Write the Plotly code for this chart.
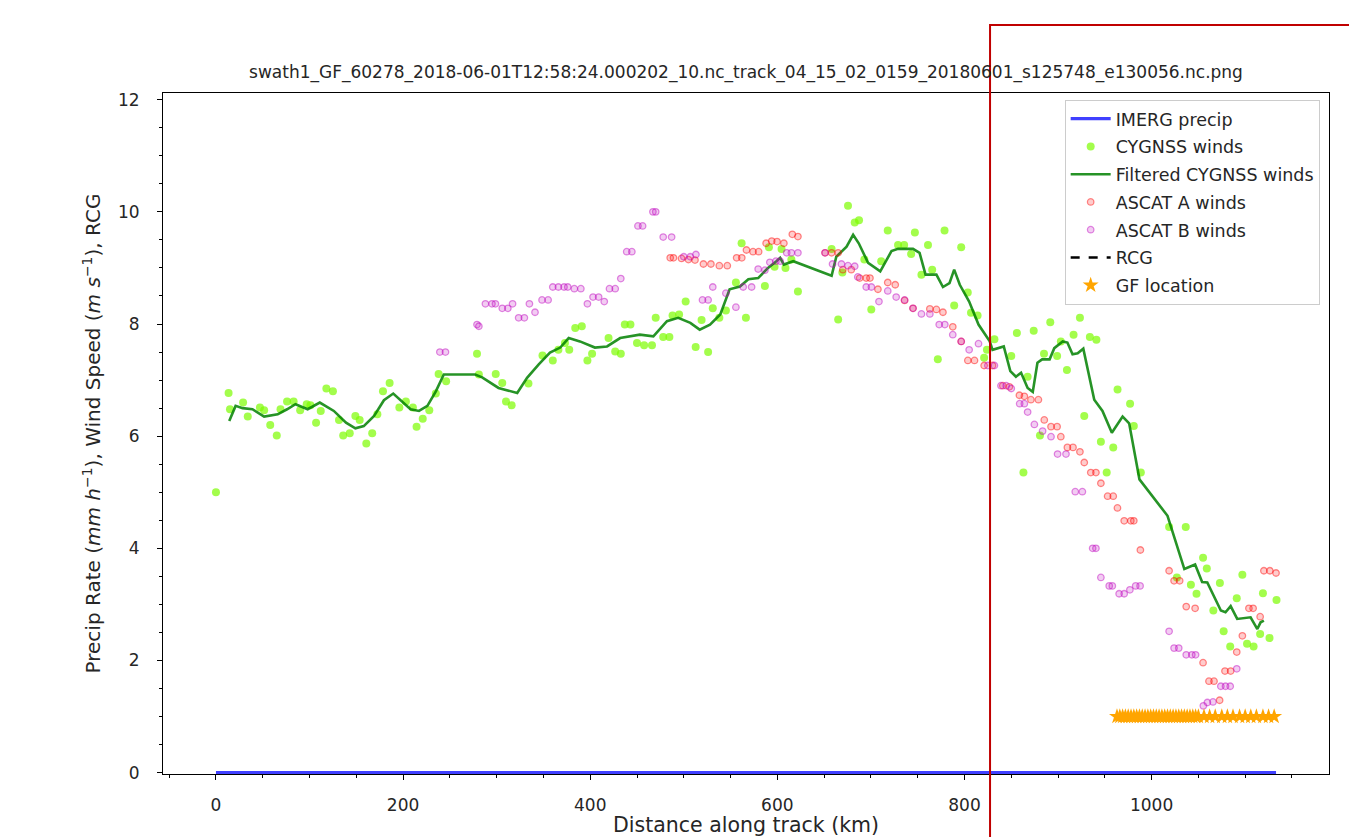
import plotly.graph_objects as go

TITLE = "swath1_GF_60278_2018-06-01T12:58:24.000202_10.nc_track_04_15_02_0159_20180601_s125748_e130056.nc.png"

# IMERG precipitation along track (km, mm/h)
imerg_x = [0, 1133]
imerg_y = [0.0, 0.0]

# CYGNSS winds (km, m/s)
cyg_x = [0, 13.5, 15, 29, 34, 47, 51.5, 58, 65, 69, 76, 83, 90, 97, 101, 107, 112, 118, 125, 131.5,
         136, 143, 149, 153.6, 160.7, 167, 172.5, 178.5, 185.6, 196, 203, 210.5, 214.4, 221, 228, 235,
         238, 246, 279, 281, 299, 306, 310, 316, 334, 349, 360, 366, 373, 377.6, 384, 391, 397, 402,
         419.6, 426.7, 432.7, 437, 443, 450, 457.6, 466, 470, 478, 484.6, 488, 495, 502, 512.7, 519,
         526, 531, 538, 545, 555.7, 561.8, 566.4, 586.7, 591, 597, 604.5, 608.7, 615, 622, 658, 665,
         669.5, 675.5, 682.7, 687.3, 693, 700.4, 711, 718, 729, 735.5, 743, 747, 754, 761, 765.5,
         771.5, 778.7, 789, 796.5, 803.5, 807, 814, 821, 824, 832, 850, 856, 863, 867.5, 874, 880.7,
         885, 891.7, 899, 903, 909.5, 916.6, 923.4, 928, 934, 941, 945.8, 952, 959, 963.6, 977, 981,
         988.5, 1018.7, 1027, 1036.5, 1042, 1048, 1055, 1059, 1066, 1073, 1077, 1084, 1091, 1097,
         1102, 1109, 1116, 1119, 1126, 1133.5]
cyg_y = [5.0, 6.77, 6.48, 6.6, 6.35, 6.51, 6.46, 6.2, 6.01, 6.48, 6.62, 6.62, 6.46, 6.57, 6.55, 6.24,
         6.45, 6.85, 6.8, 6.29, 6.01, 6.05, 6.36, 6.29, 5.87, 6.05, 6.39, 6.8, 6.95, 6.51, 6.62, 6.51,
         6.17, 6.31, 6.46, 6.76, 7.11, 6.98, 7.47, 7.1, 7.11, 6.95, 6.62, 6.55, 6.94, 7.44, 7.35, 7.54,
         7.66, 7.54, 7.93, 7.96, 7.35, 7.47, 7.75, 7.51, 7.47, 7.99, 7.99, 7.66, 7.62, 7.62, 8.11,
         7.77, 7.77, 8.15, 8.17, 8.4, 7.59, 8.07, 7.5, 8.28, 8.11, 8.24, 8.74, 9.44, 8.11, 8.68, 9.37,
         9.02, 9.34, 9.0, 9.15, 8.58, 9.34, 8.08, 8.92, 10.11, 9.81, 9.85, 9.15, 8.26, 9.12, 9.67,
         9.41, 9.41, 9.25, 9.63, 8.88, 9.41, 8.97, 7.37, 9.67, 8.33, 9.37, 8.56, 8.2, 8.15, 7.4, 7.54,
         7.73, 7.43, 7.84, 5.35, 7.06, 7.88, 6.01, 7.47, 8.03, 7.43, 7.69, 7.18, 7.81, 8.11, 6.36,
         7.77, 7.72, 5.9, 5.35, 5.8, 6.83, 6.58, 6.18, 5.35, 4.38, 3.48, 4.38, 3.35, 3.19, 3.83, 3.64,
         2.89, 3.38, 2.52, 2.25, 3.11, 3.53, 2.3, 2.25, 2.47, 3.2, 2.4, 3.08]

# Filtered CYGNSS winds
filt_x = [14.2, 21, 28.5, 39, 51.5, 66, 76, 85, 98, 111, 126, 139, 149, 158, 169, 179.5, 189.5, 197,
          208, 217, 226, 235, 243.5, 277, 284.5, 302, 322, 332.5, 345, 357, 368, 377, 389, 405, 418,
          432, 453, 467.5, 482, 494, 507, 517, 528, 539, 549, 560, 569, 579.5, 590, 599, 603, 607,
          617, 658, 663, 674, 681, 687, 697, 710, 722, 729, 745, 752, 758.4, 770, 777, 784, 789, 795,
          805, 815, 827, 830, 842, 849, 855, 860.5, 867.5, 873, 878, 883, 891, 896, 905, 910, 915.5,
          921, 927, 938.7, 947.5, 957.5, 969, 976, 987, 1017, 1035, 1046.5, 1054, 1059.5, 1074, 1079,
          1084.5, 1091.5, 1105.8, 1113, 1116.5, 1120]
filt_y = [6.27, 6.54, 6.5, 6.48, 6.35, 6.39, 6.48, 6.57, 6.48, 6.6, 6.45, 6.24, 6.14, 6.18, 6.36,
          6.64, 6.76, 6.65, 6.48, 6.45, 6.54, 6.8, 7.1, 7.1, 7.05, 6.86, 6.77, 7.04, 7.28, 7.49, 7.58,
          7.75, 7.69, 7.58, 7.6, 7.75, 7.81, 7.78, 8.05, 8.11, 8.02, 7.9, 7.99, 8.17, 8.62, 8.67, 8.8,
          8.82, 9.0, 9.12, 9.18, 9.06, 9.12, 8.86, 9.2, 9.38, 9.59, 9.44, 9.09, 8.94, 9.3, 9.34, 9.34,
          9.27, 8.88, 8.88, 8.66, 8.73, 8.97, 8.7, 8.4, 7.99, 7.69, 7.54, 7.6, 7.16, 7.06, 7.13, 6.86,
          6.79, 7.31, 7.37, 7.37, 7.57, 7.69, 7.67, 7.46, 7.48, 7.56, 6.65, 6.45, 6.06, 6.35, 6.23,
          5.23, 4.58, 3.63, 3.71, 3.4, 3.39, 2.89, 2.86, 2.97, 2.74, 2.77, 2.56, 2.68, 2.71]

# ASCAT A winds
asa_x = [485.5, 489, 497.6, 505, 512, 521, 529, 538, 546.5, 556.5, 562, 567, 574, 580, 588, 594, 599.7,
         607, 616, 622, 651, 658, 665, 670, 679, 688, 695, 699, 707.5, 718, 726, 736, 745, 763, 770,
         777, 787.5, 796.5, 803.6, 810.7, 821, 830, 841, 848, 858.7, 864, 871, 879, 885.3, 892.5, 899,
         903, 910, 916, 923.4, 928, 935, 940.5, 945.8, 953, 959, 963.5, 970.7, 977.8, 981, 988,
         1018.7, 1024, 1030, 1037, 1046.5, 1055, 1061.3, 1066.7, 1072.7, 1078.4, 1084.5, 1091, 1097,
         1104, 1108.5, 1116, 1120, 1126.4, 1133]
asa_y = [9.18, 9.18, 9.17, 9.15, 9.14, 9.07, 9.07, 9.04, 9.04, 9.18, 9.18, 9.32, 9.29, 9.29, 9.44,
         9.48, 9.47, 9.44, 9.6, 9.56, 9.27, 9.27, 9.27, 8.97, 8.97, 8.82, 8.82, 8.82, 8.62, 8.74, 8.7,
         8.42, 8.28, 8.27, 8.26, 8.21, 7.95, 7.69, 7.35, 7.35, 7.26, 7.26, 6.9, 6.88, 6.73, 6.71, 6.65,
         6.65, 6.29, 6.17, 6.17, 5.99, 5.8, 5.8, 5.72, 5.53, 5.35, 5.35, 5.16, 4.93, 4.93, 4.72, 4.49,
         4.49, 4.49, 3.97, 3.6, 3.42, 3.42, 2.96, 2.93, 1.96, 1.63, 1.63, 1.29, 1.81, 1.81, 2.15, 2.44,
         2.93, 2.93, 2.78, 3.6, 3.6, 3.56]

# ASCAT B winds
asb_x = [239.3, 245.3, 279, 281, 288, 295, 298.7, 306, 312, 317, 323.5, 329.6, 335, 341, 348.5, 355,
         360, 366, 372, 376, 383, 390, 397, 403, 409, 415, 420.6, 426.7, 432.7, 439, 444.5, 451, 456,
         467, 470, 478, 487, 500, 507, 513, 520, 526, 531, 545, 555.7, 563.5, 572.5, 579.5, 586.7,
         592, 598.4, 603, 610, 615, 622, 651, 659, 668.5, 675.5, 682.7, 686, 695, 700.5, 708.6, 718,
         727, 736, 745, 754, 763, 773, 779, 787.5, 796.5, 805, 815, 825, 832, 839, 844.6, 850, 859,
         864, 867.5, 874.7, 883.5, 892.5, 899.5, 908.5, 918.4, 926, 937, 940.5, 945.8, 954.7, 958,
         965.3, 970.7, 976.8, 983, 987.7, 1018.7, 1024, 1029, 1037, 1043, 1047, 1055.3, 1059.6,
         1065.6, 1074, 1079, 1084, 1091]
asb_y = [7.5, 7.5, 7.99, 7.96, 8.36, 8.36, 8.36, 8.28, 8.28, 8.36, 8.11, 8.11, 8.36, 8.21, 8.43, 8.43,
         8.66, 8.66, 8.66, 8.66, 8.63, 8.63, 8.36, 8.48, 8.48, 8.4, 8.63, 8.63, 8.81, 9.29, 9.29, 9.75,
         9.75, 10.0, 10.0, 9.55, 9.55, 9.2, 9.2, 9.24, 8.43, 8.43, 8.66, 8.55, 8.3, 8.66, 8.66, 8.98,
         8.96, 9.1, 9.12, 9.12, 9.27, 9.27, 9.27, 9.27, 9.07, 9.07, 9.04, 9.03, 8.84, 8.66, 8.66, 8.4,
         8.59, 8.48, 8.43, 8.28, 8.18, 8.18, 7.99, 7.99, 7.81, 7.69, 7.54, 7.65, 7.26, 7.26, 6.9, 6.9,
         6.85, 6.58, 6.58, 6.43, 6.21, 6.09, 5.99, 5.68, 5.68, 5.01, 5.01, 4.0, 4.0, 3.48, 3.33, 3.33,
         3.19, 3.19, 3.26, 3.33, 3.33, 2.52, 2.22, 2.22, 2.1, 2.1, 2.1, 1.19, 1.25, 1.26, 1.54, 1.54,
         1.54, 1.85]

# RCG (no valid values on this track)
rcg_x = [None]
rcg_y = [None]

# GF locations along track
gf_x = [963, 966, 969, 972, 975, 978, 981, 984, 987, 990, 993, 996, 999, 1002, 1005, 1008, 1011,
        1014, 1017, 1020, 1023, 1026, 1029, 1032, 1035, 1038, 1041, 1044, 1047, 1050, 1056, 1062,
        1068, 1075, 1081, 1087, 1094, 1100, 1106, 1112, 1119, 1125, 1131]
gf_y = [1.0] * len(gf_x)

fig = go.Figure()
fig.add_trace(go.Scatter(x=imerg_x, y=imerg_y, mode="lines", name="IMERG precip", legendgroup="a",
                         line=dict(color="rgba(0,0,255,0.75)", width=3.2)))
fig.add_trace(go.Scatter(x=cyg_x, y=cyg_y, mode="markers", name="CYGNSS winds", legendgroup="b",
                         marker=dict(color="rgba(124,252,0,0.7)", size=8, line=dict(width=0))))
fig.add_trace(go.Scatter(x=filt_x, y=filt_y, mode="lines", name="Filtered CYGNSS winds", legendgroup="c",
                         line=dict(color="rgba(0,128,0,0.85)", width=2.6)))
fig.add_trace(go.Scatter(x=asa_x, y=asa_y, mode="markers", name="ASCAT A winds", legendgroup="d",
                         marker=dict(color="rgba(255,0,0,0.2)", size=6.5,
                                     line=dict(color="rgba(255,0,0,0.45)", width=1.3))))
fig.add_trace(go.Scatter(x=asb_x, y=asb_y, mode="markers", name="ASCAT B winds", legendgroup="e",
                         marker=dict(color="rgba(191,0,191,0.2)", size=6.5,
                                     line=dict(color="rgba(191,0,191,0.45)", width=1.3))))
fig.add_trace(go.Scatter(x=rcg_x, y=rcg_y, mode="lines", name="RCG", legendgroup="f", showlegend=True,
                         line=dict(color="black", width=2.5, dash="dash")))
fig.add_trace(go.Scatter(x=gf_x, y=gf_y, mode="markers", name="GF location", legendgroup="g",
                         marker=dict(color="orange", size=12, symbol="star", line=dict(width=0))))

font_family = "DejaVu Sans, Verdana, sans-serif"
fig.update_layout(
    width=1349, height=837,
    paper_bgcolor="white", plot_bgcolor="white",
    margin=dict(l=163, r=20, t=93, b=63),
    font=dict(family=font_family, color="#262626", size=16),
    title=dict(text=TITLE, x=0.553, xanchor="center", y=0.914, yanchor="middle",
               font=dict(size=17, color="#262626")),
    showlegend=True,
    legend=dict(x=0.992, y=0.99, xanchor="right", yanchor="top", traceorder="grouped",
                bgcolor="rgba(255,255,255,0.85)", bordercolor="#cccccc", borderwidth=1,
                font=dict(size=17.5), tracegroupgap=2, itemwidth=40),
    shapes=[dict(type="rect", xref="paper", yref="paper", x0=0.7093, x1=1.03,
                 y0=-0.1, y1=1.0999, line=dict(color="#c00000", width=2), layer="above")],
)
fig.update_xaxes(range=[-56.6, 1189.6], showline=True, linecolor="black", linewidth=1, mirror=True,
                 automargin=False,
                 ticks="outside", ticklen=5, tickcolor="black", tickvals=[0, 200, 400, 600, 800, 1000],
                 showgrid=False, zeroline=False, tickfont=dict(size=17), ticklabelstandoff=11,
                 minor=dict(dtick=50, tick0=0, ticks="outside", ticklen=3, tickcolor="black", showgrid=False),
                 title=dict(text="Distance along track (km)", font=dict(size=20.5), standoff=6))
fig.update_yaxes(range=[-0.025, 12.12], showline=True, linecolor="black", linewidth=1, mirror=True,
                 automargin=False,
                 ticks="outside", ticklen=5, tickcolor="black", tickvals=[0, 2, 4, 6, 8, 10, 12],
                 showgrid=False, zeroline=False, tickfont=dict(size=17), ticklabelstandoff=14,
                 minor=dict(dtick=0.5, tick0=0, ticks="outside", ticklen=3, tickcolor="black", showgrid=False),
                 title=dict(text="Precip Rate (<i>mm h</i><sup>−1</sup>), Wind Speed (<i>m s</i><sup>−1</sup>), RCG",
                            font=dict(size=20), standoff=11))

fig.write_html("out.html")
